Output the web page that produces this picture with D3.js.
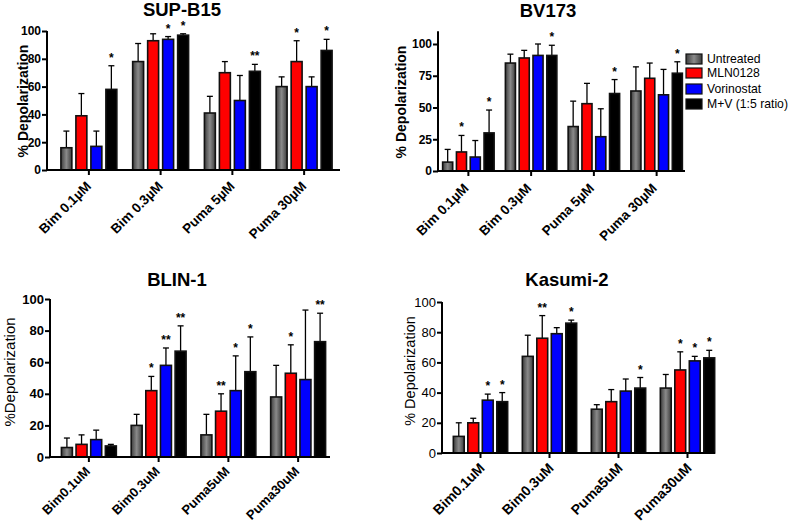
<!DOCTYPE html>
<html><head><meta charset="utf-8">
<script src="https://cdn.jsdelivr.net/npm/d3@7"></script>
<style>body{margin:0;background:#fff}svg{display:block;font-family:"Liberation Sans",Arial,sans-serif}</style>
</head><body>
<svg id="c" width="790" height="522"></svg>
<script>
const seriesNames = ["Untreated","MLN0128","Vorinostat","M+V (1:5 ratio)"];
const seriesColors = ["url(#grayGrad)","#ff0000","#0000ff","#000000"];

const supCats = ["Bim 0.1µM","Bim 0.3µM","Puma 5µM","Puma 30µM"];
const supMean = [[16,78,41,60],[39,93,70,78],[17,94,50,60],[58,97,71,86]];
const supErr  = [[28,91,53,67],[55,98,78,93],[28,96,68,67],[75,98,76,94]];
const supSig  = [["","","",""],["","","","*"],["","*","",""],["*","*","**","*"]];

const bvCats = ["Bim 0.1µM","Bim 0.3µM","Puma 5µM","Puma 30µM"];
const bvMean = [[7,85,35,63],[15,89,53,73],[11,91,27,60],[30,91,61,77]];
const bvErr  = [[17,92,55,82],[28,95,69,85],[24,100,49,80],[48,99,72,86]];
const bvSig  = [["","","",""],["*","","",""],["","","",""],["*","*","*","*"]];

const blinCats = ["Bim0.1uM","Bim0.3uM","Puma5uM","Puma30uM"];
const blinMean = [[6,20,14,38],[8,42,29,53],[11,58,42,49],[7,67,54,73]];
const blinErr  = [[12,27,27,58],[14,51,40,71],[17,69,64,93],[8,83,76,91]];
const blinSig  = [["","","",""],["","*","**","*"],["","**","*",""],["","**","*","**"]];

const kasCats = ["Bim0.1uM","Bim0.3uM","Puma5uM","Puma30uM"];
const kasMean = [[11,64,29,43],[20,76,34,55],[35,79,41,61],[34,86,43,63]];
const kasErr  = [[20,78,32,52],[23,91,42,67],[39,83,49,64],[40,88,50,68]];
const kasSig  = [["","","",""],["","**","","*"],["*","","","*"],["*","*","*","*"]];

const supTicks = [0,20,40,60,80,100];
const bvTicks = [0,25,50,75,100];
const blinTicks = [0,20,40,60,80,100];
const kasTicks = [0,20,40,60,80,100];

const svg = d3.select("#c");
const defs = svg.append("defs");
const g = defs.append("linearGradient").attr("id","grayGrad").attr("x1","0").attr("x2","1").attr("y1","0").attr("y2","0");
g.append("stop").attr("offset","0%").attr("stop-color","#3c3c3c");
g.append("stop").attr("offset","50%").attr("stop-color","#8a8a8a");
g.append("stop").attr("offset","100%").attr("stop-color","#3c3c3c");

function panel(o){
  const root = svg.append("g");
  const y = d3.scaleLinear().domain([0,o.ymax]).range([o.y0, o.y0 - (o.y0-o.y100)*o.ymax/100]);
  const x = d3.scaleBand().domain(o.cats).range([o.gx0,o.gx1]).paddingInner(o.gpi).paddingOuter(o.gpi/2);
  const xs = d3.scaleBand().domain(d3.range(4)).range([0,x.bandwidth()]).paddingInner(o.bpi).paddingOuter(o.bpi/2);
  const bw = xs.bandwidth();
  for(let s=0;s<4;s++){
    o.cats.forEach((c,i)=>{
      const v=o.mean[s][i], e=o.err[s][i];
      const bx = x(c)+xs(s);
      const cx = bx+bw/2;
      root.append("line").attr("x1",cx).attr("x2",cx).attr("y1",y(v)).attr("y2",y(e)).attr("stroke","#000").attr("stroke-width",1.3);
      root.append("line").attr("x1",cx-3).attr("x2",cx+3).attr("y1",y(e)).attr("y2",y(e)).attr("stroke","#000").attr("stroke-width",1.3);
      root.append("rect").attr("x",bx).attr("y",y(v)).attr("width",bw).attr("height",y(0)-y(v))
        .attr("fill",seriesColors[s]).attr("stroke","#111").attr("stroke-width",1.6);
      if(o.sig[s][i]) root.append("text").attr("x",cx).attr("y",y(e)-4).attr("text-anchor","middle")
        .attr("font-size",12).attr("font-weight","bold").text(o.sig[s][i]);
    });
  }
  const ya = root.append("g").attr("transform",`translate(${o.ax},0)`)
    .call(d3.axisLeft(y).tickValues(o.ticks).tickSize(5).tickSizeOuter(0));
  ya.select(".domain").attr("stroke-width",2).attr("d",`M0,${y(0)}V${y(o.ymax)}`);
  ya.selectAll(".tick line").attr("stroke-width",2);
  ya.selectAll("text").attr("font-size",o.tf).attr("font-weight",o.tb?"bold":"normal").attr("fill","#000")
    .attr("font-family","'Liberation Sans',Arial,sans-serif").attr("x",-6);
  root.append("line").attr("x1",o.ax-1).attr("x2",o.axEnd).attr("y1",y(0)).attr("y2",y(0)).attr("stroke","#000").attr("stroke-width",2);
  o.cats.forEach(c=>{
    const cx = x(c)+x.bandwidth()/2;
    root.append("line").attr("x1",cx).attr("x2",cx).attr("y1",y(0)).attr("y2",y(0)+5).attr("stroke","#000").attr("stroke-width",2);
    root.append("text").attr("transform",`translate(${cx+o.xdx},${y(0)+o.xdy}) rotate(-45)`).attr("text-anchor","end")
      .attr("font-size",o.xf).attr("font-weight","bold").text(c);
  });
  root.append("text").attr("transform",`translate(${o.ylx},${o.ylc}) rotate(-90)`).attr("text-anchor","middle")
    .attr("font-size",o.ylf).attr("font-weight",o.ylb?"bold":"normal").text(o.ylab);
  root.append("text").attr("x",o.tx).attr("y",o.ty).attr("text-anchor","middle").attr("font-size",18.5).attr("font-weight","bold").text(o.title);
}

panel({title:"SUP-B15",tx:182,ty:16,cats:supCats,mean:supMean,err:supErr,sig:supSig,ticks:supTicks,ymax:100,
  y0:170,y100:31,ax:47,axEnd:340,gx0:53,gx1:340,gpi:0.164,bpi:0.27,tf:12,tb:true,xf:13.5,xdx:3,xdy:17,
  ylab:"% Depolarization",ylx:28,ylc:101,ylf:14,ylb:true});
panel({title:"BV173",tx:548,ty:17,cats:bvCats,mean:bvMean,err:bvErr,sig:bvSig,ticks:bvTicks,ymax:110,
  y0:171,y100:44,ax:438,axEnd:685,gx0:437,gx1:688,gpi:0.12,bpi:0.27,tf:12,tb:true,xf:13.5,xdx:1,xdy:18,
  ylab:"% Depolarization",ylx:406,ylc:102,ylf:14,ylb:true});
panel({title:"BLIN-1",tx:177,ty:286,cats:blinCats,mean:blinMean,err:blinErr,sig:blinSig,ticks:blinTicks,ymax:100,
  y0:457,y100:299,ax:50,axEnd:330,gx0:54,gx1:333,gpi:0.16,bpi:0.25,tf:13,tb:true,xf:13,xdx:2,xdy:15,
  ylab:"%Depolarization",ylx:15,ylc:372,ylf:15,ylb:false});
panel({title:"Kasumi-2",tx:567,ty:286,cats:kasCats,mean:kasMean,err:kasErr,sig:kasSig,ticks:kasTicks,ymax:100,
  y0:453,y100:302,ax:442,axEnd:715,gx0:446,gx1:722,gpi:0.16,bpi:0.25,tf:13,tb:false,xf:14,xdx:5,xdy:16,
  ylab:"% Depolarization",ylx:415,ylc:371,ylf:14.5,ylb:false});

const lg = svg.append("g").attr("transform","translate(686,54)");
seriesNames.forEach((n,i)=>{
  const yy = [0,14,30,45][i];
  lg.append("rect").attr("x",0).attr("y",yy).attr("width",16).attr("height",10).attr("fill",seriesColors[i]).attr("stroke","#111").attr("stroke-width",1.2);
  lg.append("text").attr("x",21).attr("y",yy+5).attr("dy","0.35em").attr("font-size",12.2).text(n);
});
</script>
</body></html>
